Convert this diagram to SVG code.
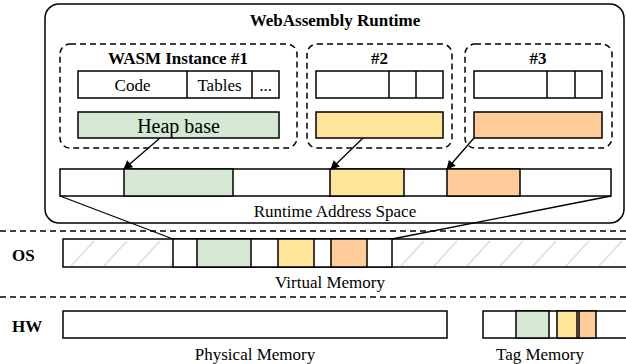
<svg xmlns="http://www.w3.org/2000/svg" width="626" height="364" viewBox="0 0 626 364">
<style>
  .t{font-family:"Liberation Serif","Times New Roman",serif;font-size:17px;fill:#000}
  .b{font-weight:bold}
  .m{text-anchor:middle}
  .box{fill:#fff;stroke:#000;stroke-width:1.5}
  .g{fill:#d5e8d4}
  .y{fill:#ffe599}
  .o{fill:#ffcc99}
  .dash{fill:none;stroke:#000;stroke-width:1.5;stroke-dasharray:6 4}
  .sep{stroke:#000;stroke-width:1.5;stroke-dasharray:6 4}
  .ln{stroke:#000;stroke-width:1.3;fill:none}
  .seg{stroke:#000;stroke-width:1.5}
</style>
<defs>
  <marker id="ah" viewBox="0 0 10 10" refX="9" refY="5" markerWidth="10" markerHeight="9" markerUnits="userSpaceOnUse" orient="auto">
    <path d="M0,0 L10,5 L0,10 Z" fill="#000"/>
  </marker>
  <pattern id="hatch" patternUnits="userSpaceOnUse" x="63" y="239" width="33" height="28">
    <rect width="33" height="28" fill="#fff"/>
    <path d="M8,27 L31,2" stroke="#dcdcdc" stroke-width="1.5"/>
  </pattern>
</defs>

<!-- separators -->
<line class="sep" x1="0" y1="231" x2="626" y2="231"/>
<line class="sep" x1="0" y1="297" x2="626" y2="297"/>

<g id="runtime">
  <rect x="45" y="4" width="579" height="219" rx="14" fill="#fff" stroke="#000" stroke-width="1.5"/>
  <text class="t b m" x="335" y="26">WebAssembly Runtime</text>
</g>

<g id="instance1">
  <rect class="dash" x="60" y="44" width="237" height="104" rx="10"/>
  <text class="t b m" x="178" y="64">WASM Instance #1</text>
  <rect class="box" x="78" y="71" width="201" height="27"/>
  <line class="seg" x1="187" y1="71" x2="187" y2="98"/>
  <line class="seg" x1="252" y1="71" x2="252" y2="98"/>
  <text class="t m" x="132.5" y="91">Code</text>
  <text class="t m" x="219.5" y="91">Tables</text>
  <text class="t m" x="265.5" y="91">...</text>
  <rect class="box g" x="78" y="112" width="201" height="26"/>
  <text class="t m" x="178.5" y="133" style="font-size:20px">Heap base</text>
</g>

<g id="instance2">
  <rect class="dash" x="307" y="44" width="145" height="104" rx="10"/>
  <text class="t b m" x="379.5" y="64">#2</text>
  <rect class="box" x="316" y="71" width="127" height="27"/>
  <line class="seg" x1="389" y1="71" x2="389" y2="98"/>
  <line class="seg" x1="416" y1="71" x2="416" y2="98"/>
  <rect class="box y" x="316" y="112" width="127" height="26"/>
</g>

<g id="instance3">
  <rect class="dash" x="465" y="44" width="147" height="104" rx="10"/>
  <text class="t b m" x="538" y="64">#3</text>
  <rect class="box" x="474" y="71" width="128" height="27"/>
  <line class="seg" x1="547" y1="71" x2="547" y2="98"/>
  <line class="seg" x1="575" y1="71" x2="575" y2="98"/>
  <rect class="box o" x="474" y="112" width="128" height="26"/>
</g>

<g id="address-space">
  <rect class="box" x="60" y="169" width="551" height="27"/>
  <rect class="box g" x="124" y="169" width="109" height="27"/>
  <rect class="box y" x="330" y="169" width="74" height="27"/>
  <rect class="box o" x="447" y="169" width="73" height="27"/>
  <text class="t m" x="335" y="217">Runtime Address Space</text>
</g>

<g id="os">
  <text class="t b" x="12" y="261">OS</text>
  <rect x="63" y="239" width="570" height="28" fill="url(#hatch)" stroke="#000" stroke-width="1.5"/>
  <rect class="box" x="173" y="239" width="219" height="28"/>
  <rect class="box g" x="197" y="239" width="54" height="28"/>
  <rect class="box y" x="278" y="239" width="36" height="28"/>
  <rect class="box o" x="331" y="239" width="36" height="28"/>
  <text class="t m" x="330" y="288">Virtual Memory</text>
</g>

<g id="hw">
  <text class="t b" x="12" y="332">HW</text>
  <rect class="box" x="63" y="311" width="384" height="27"/>
  <text class="t m" x="255" y="360">Physical Memory</text>
  <rect class="box" x="483" y="311" width="150" height="27"/>
  <rect class="box g" x="516" y="311" width="33" height="27"/>
  <rect class="box y" x="557" y="311" width="20" height="27"/>
  <rect class="box o" x="579" y="311" width="17" height="27"/>
  <text class="t m" x="540" y="360">Tag Memory</text>
</g>

<g id="connectors">
  <line class="ln" x1="160" y1="138" x2="124" y2="169" marker-end="url(#ah)"/>
  <line class="ln" x1="363" y1="138" x2="331" y2="169" marker-end="url(#ah)"/>
  <line class="ln" x1="474" y1="138" x2="447" y2="169" marker-end="url(#ah)"/>
  <line class="ln" x1="60" y1="196" x2="173" y2="239"/>
  <line class="ln" x1="611" y1="196" x2="392" y2="239"/>
</g>
</svg>
